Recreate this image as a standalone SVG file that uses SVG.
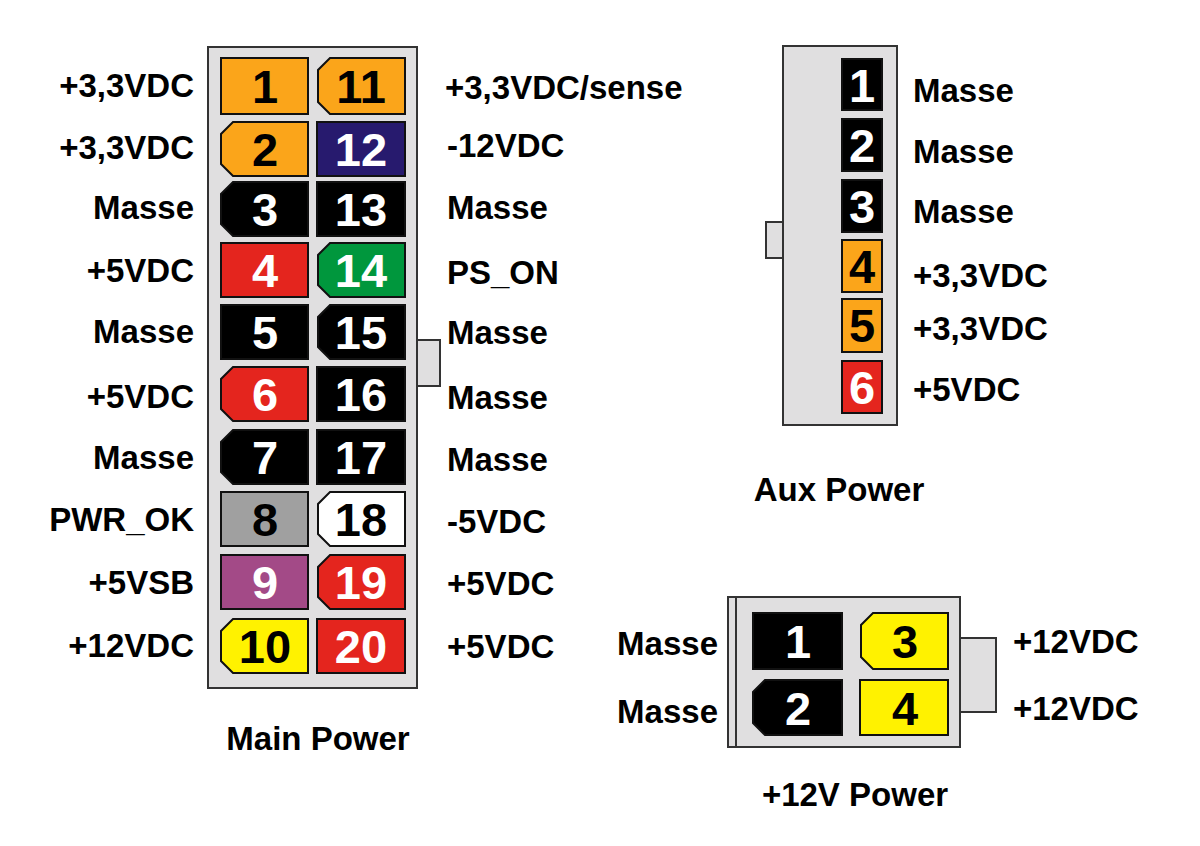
<svg xmlns="http://www.w3.org/2000/svg" width="1200" height="846" viewBox="0 0 1200 846">
<style>
.box{fill:#e0dfe0;stroke:#333;stroke-width:2}
.p{stroke:#111;stroke-width:2}
.n{font-family:"Liberation Sans",Arial,sans-serif;font-weight:bold;font-size:47px;text-anchor:middle}
.w{fill:#fff}.k{fill:#000}
.l{font-family:"Liberation Sans",Arial,sans-serif;font-weight:bold;font-size:33px;fill:#000}
.r{text-anchor:end}
.t{text-anchor:middle}
</style>
<rect x="0" y="0" width="1200" height="846" fill="#fff"/>
<g id="main">
<rect class="box" x="417" y="340" width="23" height="46"/>
<rect class="box" x="208" y="47" width="209" height="641"/>
<path class="p" fill="#fba51a" d="M221,58H308V114H221Z"/><text class="n k" x="265" y="103">1</text>
<path class="p" fill="#fba51a" d="M330,58H405V114H330L318,102V70Z"/><text class="n k" x="361" y="103">11</text>
<path class="p" fill="#fba51a" d="M233,122H308V176H233L221,164V134Z"/><text class="n k" x="265" y="166">2</text>
<path class="p" fill="#271a6e" d="M317,122H405V176H317Z"/><text class="n w" x="361" y="166">12</text>
<path class="p" fill="#000" d="M233,182H308V236H233L221,224V194Z"/><text class="n w" x="265" y="226">3</text>
<path class="p" fill="#000" d="M317,182H405V236H317Z"/><text class="n w" x="361" y="226">13</text>
<path class="p" fill="#e4251e" d="M221,243H308V297H221Z"/><text class="n w" x="265" y="287">4</text>
<path class="p" fill="#00973d" d="M330,243H405V297H330L318,285V255Z"/><text class="n w" x="361" y="287">14</text>
<path class="p" fill="#000" d="M221,305H308V359H221Z"/><text class="n w" x="265" y="349">5</text>
<path class="p" fill="#000" d="M330,305H405V359H330L318,347V317Z"/><text class="n w" x="361" y="349">15</text>
<path class="p" fill="#e4251e" d="M233,367H308V421H233L221,409V379Z"/><text class="n w" x="265" y="411">6</text>
<path class="p" fill="#000" d="M317,367H405V421H317Z"/><text class="n w" x="361" y="411">16</text>
<path class="p" fill="#000" d="M233,430H308V484H233L221,472V442Z"/><text class="n w" x="265" y="474">7</text>
<path class="p" fill="#000" d="M317,430H405V484H317Z"/><text class="n w" x="361" y="474">17</text>
<path class="p" fill="#a0a0a0" d="M221,492H308V546H221Z"/><text class="n k" x="265" y="536">8</text>
<path class="p" fill="#fff" d="M330,492H405V546H330L318,534V504Z"/><text class="n k" x="361" y="536">18</text>
<path class="p" fill="#a34a87" d="M221,555H308V609H221Z"/><text class="n w" x="265" y="599">9</text>
<path class="p" fill="#e4251e" d="M330,555H405V609H330L318,597V567Z"/><text class="n w" x="361" y="599">19</text>
<path class="p" fill="#fff200" d="M233,619H308V673H233L221,661V631Z"/><text class="n k" x="265" y="663">10</text>
<path class="p" fill="#e4251e" d="M317,619H405V673H317Z"/><text class="n w" x="361" y="663">20</text>
<text class="l r" x="194" y="97">+3,3VDC</text>
<text class="l r" x="194" y="159">+3,3VDC</text>
<text class="l r" x="194" y="219">Masse</text>
<text class="l r" x="194" y="282">+5VDC</text>
<text class="l r" x="194" y="343">Masse</text>
<text class="l r" x="194" y="408">+5VDC</text>
<text class="l r" x="194" y="469">Masse</text>
<text class="l r" x="194" y="531">PWR_OK</text>
<text class="l r" x="194" y="594">+5VSB</text>
<text class="l r" x="194" y="657">+12VDC</text>
<text class="l" x="445" y="99">+3,3VDC/sense</text>
<text class="l" x="447" y="157">-12VDC</text>
<text class="l" x="447" y="219">Masse</text>
<text class="l" x="447" y="284">PS_ON</text>
<text class="l" x="447" y="344">Masse</text>
<text class="l" x="447" y="409">Masse</text>
<text class="l" x="447" y="471">Masse</text>
<text class="l" x="447" y="533">-5VDC</text>
<text class="l" x="447" y="595">+5VDC</text>
<text class="l" x="447" y="658">+5VDC</text>
<text class="l t" x="318" y="750">Main Power</text>
</g>
<g id="aux">
<rect class="box" x="766" y="222" width="17" height="36"/>
<rect class="box" x="783" y="46" width="114" height="379"/>
<rect class="p" fill="#000" x="842" y="59" width="40" height="51"/><text class="n w" x="862" y="102">1</text>
<rect class="p" fill="#000" x="842" y="119" width="40" height="52"/><text class="n w" x="862" y="162">2</text>
<rect class="p" fill="#000" x="842" y="180" width="40" height="52"/><text class="n w" x="862" y="223">3</text>
<rect class="p" fill="#fba51a" x="842" y="240" width="40" height="52"/><text class="n k" x="862" y="283">4</text>
<rect class="p" fill="#fba51a" x="842" y="299" width="40" height="53"/><text class="n k" x="862" y="342">5</text>
<rect class="p" fill="#e4251e" x="842" y="361" width="40" height="52"/><text class="n w" x="862" y="404">6</text>
<text class="l" x="913" y="102">Masse</text>
<text class="l" x="913" y="163">Masse</text>
<text class="l" x="913" y="223">Masse</text>
<text class="l" x="913" y="287">+3,3VDC</text>
<text class="l" x="913" y="340">+3,3VDC</text>
<text class="l" x="913" y="401">+5VDC</text>
<text class="l t" x="839" y="501">Aux Power</text>
</g>
<g id="p12v">
<rect class="box" x="960" y="638" width="36" height="74"/>
<rect class="box" x="728" y="597" width="232" height="150"/>
<line x1="736" y1="597" x2="736" y2="747" stroke="#333" stroke-width="2"/>
<path class="p" fill="#000" d="M753,613H842V669H753Z"/><text class="n w" x="798" y="658">1</text>
<path class="p" fill="#fff200" d="M873,613H948V669H873L861,657V625Z"/><text class="n k" x="905" y="658">3</text>
<path class="p" fill="#000" d="M765,680H842V735H765L753,723V692Z"/><text class="n w" x="798" y="725">2</text>
<path class="p" fill="#fff200" d="M860,680H948V735H860Z"/><text class="n k" x="905" y="725">4</text>
<text class="l r" x="718" y="655">Masse</text>
<text class="l r" x="718" y="723">Masse</text>
<text class="l" x="1013" y="653">+12VDC</text>
<text class="l" x="1013" y="720">+12VDC</text>
<text class="l t" x="855" y="806">+12V Power</text>
</g>
</svg>
